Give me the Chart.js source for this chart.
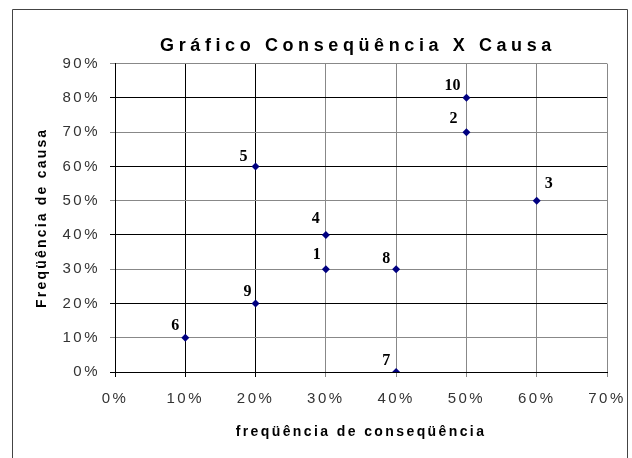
<!DOCTYPE html>
<html><head><meta charset="utf-8">
<script src="https://cdn.jsdelivr.net/npm/chart.js@4/dist/chart.umd.min.js"></script>
<style>html,body{margin:0;padding:0;background:#fff;overflow:hidden}</style>
</head><body>
<canvas id="c" width="632" height="458"></canvas>
<script>
// ---- data ----
const pointNames = ['1','2','3','4','5','6','7','8','9','10'];
const consequencia = [0.30, 0.50, 0.60, 0.30, 0.20, 0.10, 0.40, 0.40, 0.20, 0.50];
const causa        = [0.30, 0.70, 0.50, 0.40, 0.60, 0.10, 0.00, 0.30, 0.20, 0.80];
const xTickValues = [0, 0.1, 0.2, 0.3, 0.4, 0.5, 0.6, 0.7];
const yTickValues = [0, 0.1, 0.2, 0.3, 0.4, 0.5, 0.6, 0.7, 0.8, 0.9];
const chartTitle = 'Gráfico Conseqüência X Causa';
const xTitle = 'freqüência de conseqüência';
const yTitle = 'Freqüência de causa';

// ---- styling (not data) ----
const labelOffsets = [[-9,-14],[-13,-13],[12,-17],[-10,-16],[-12,-10],[-10,-12],[-10,-11],[-10,-10],[-8,-12],[-14,-12]];
const xGridColors = ['#000','#000','#000','#888','#888','#888','#888','#888'];
const yGridColors = ['#000','#888','#000','#888','#000','#888','#000','#888','#000','#888'];
const SANS = 'Arial, "Liberation Sans", sans-serif';
const pct = v => Math.round(v * 100) + '%';

const points = consequencia.map((x, i) => ({x: x, y: causa[i]}));

const excelLook = {
  id: 'excelLook',
  beforeDraw(chart) {
    const ctx = chart.ctx;
    ctx.letterSpacing = '2.5px';
    const tb = chart.titleBlock;
    if (tb && !tb._sp) {
      const orig = tb.draw.bind(tb);
      tb.draw = function(a) { ctx.save(); ctx.letterSpacing = '4.6px'; ctx.translate(-3, 0); orig(a); ctx.restore(); };
      tb._sp = true;
    }
    ['x','y'].forEach(id => {
      const s = chart.scales[id];
      if (s && !s._sp) {
        const orig = s.drawTitle.bind(s);
        s.drawTitle = function() { ctx.save(); ctx.letterSpacing = id === 'x' ? '2.4px' : '2.2px'; orig(); ctx.restore(); };
        s._sp = true;
      }
    });
    // outer frame
    ctx.save();
    ctx.letterSpacing = '0px';
    ctx.strokeStyle = '#444';
    ctx.lineWidth = 1;
    ctx.beginPath();
    ctx.moveTo(12.5, 470); ctx.lineTo(12.5, 9.5); ctx.lineTo(627.5, 9.5); ctx.lineTo(627.5, 470);
    ctx.stroke();
    ctx.restore();
  },
  afterDatasetsDraw(chart) {
    const ctx = chart.ctx;
    const meta = chart.getDatasetMeta(0);
    ctx.save();
    ctx.letterSpacing = '0px';
    ctx.font = 'bold 16px "Times New Roman", "Liberation Serif", serif';
    ctx.fillStyle = '#000';
    ctx.textAlign = 'center';
    ctx.textBaseline = 'middle';
    meta.data.forEach((el, i) => {
      const o = labelOffsets[i];
      ctx.fillText(pointNames[i], el.x + o[0], el.y + o[1]);
    });
    ctx.restore();
  }
};

new Chart(document.getElementById('c'), {
  type: 'scatter',
  data: {
    datasets: [{
      label: 'Causa',
      data: points,
      pointStyle: 'rectRot',
      pointRadius: 4,
      pointHoverRadius: 4,
      backgroundColor: '#000080',
      borderColor: '#000080',
      borderWidth: 0
    }]
  },
  options: {
    responsive: false,
    animation: false,
    devicePixelRatio: 1,
    layout: { padding: { left: 0, right: 25, top: 0, bottom: 0 } },
    plugins: {
      legend: { display: false },
      tooltip: { enabled: false },
      title: {
        display: true,
        text: chartTitle,
        fullSize: false,
        color: '#000',
        font: { family: SANS, size: 18, weight: 'bold' },
        padding: { top: 35, bottom: 7 }
      }
    },
    scales: {
      x: {
        type: 'linear',
        min: 0, max: 0.7,
        afterBuildTicks: s => { s.ticks = xTickValues.map(v => ({value: v})); },
        afterFit: s => { s.height = 86; s.paddingLeft = 0; s.paddingRight = 0; },
        grid: {
          color: c => xGridColors[c.index] || '#888',
          lineWidth: 1,
          drawTicks: true,
          tickLength: 5
        },
        border: { color: '#000', width: 1 },
        ticks: {
          callback: v => pct(v),
          color: '#333',
          padding: 13,
          maxRotation: 0,
          font: { family: SANS, size: 15 }
        },
        title: {
          display: true,
          text: xTitle,
          color: '#000',
          font: { family: SANS, size: 14, weight: 'bold' },
          padding: { top: 0, bottom: 17 }
        }
      },
      y: {
        type: 'linear',
        min: 0, max: 0.9,
        afterBuildTicks: s => { s.ticks = yTickValues.map(v => ({value: v})); },
        afterFit: s => { s.width = 115; s.paddingTop = 0; s.paddingBottom = 0; },
        grid: {
          color: c => yGridColors[c.index] || '#888',
          lineWidth: 1,
          drawTicks: true,
          tickLength: 5
        },
        border: { color: '#000', width: 1 },
        ticks: {
          callback: v => pct(v),
          color: '#333',
          padding: 10,
          font: { family: SANS, size: 15 }
        },
        title: {
          display: true,
          text: yTitle,
          color: '#000',
          font: { family: SANS, size: 14, weight: 'bold' },
          padding: { top: 34, bottom: 0 }
        }
      }
    }
  },
  plugins: [excelLook]
});
</script>
</body></html>
